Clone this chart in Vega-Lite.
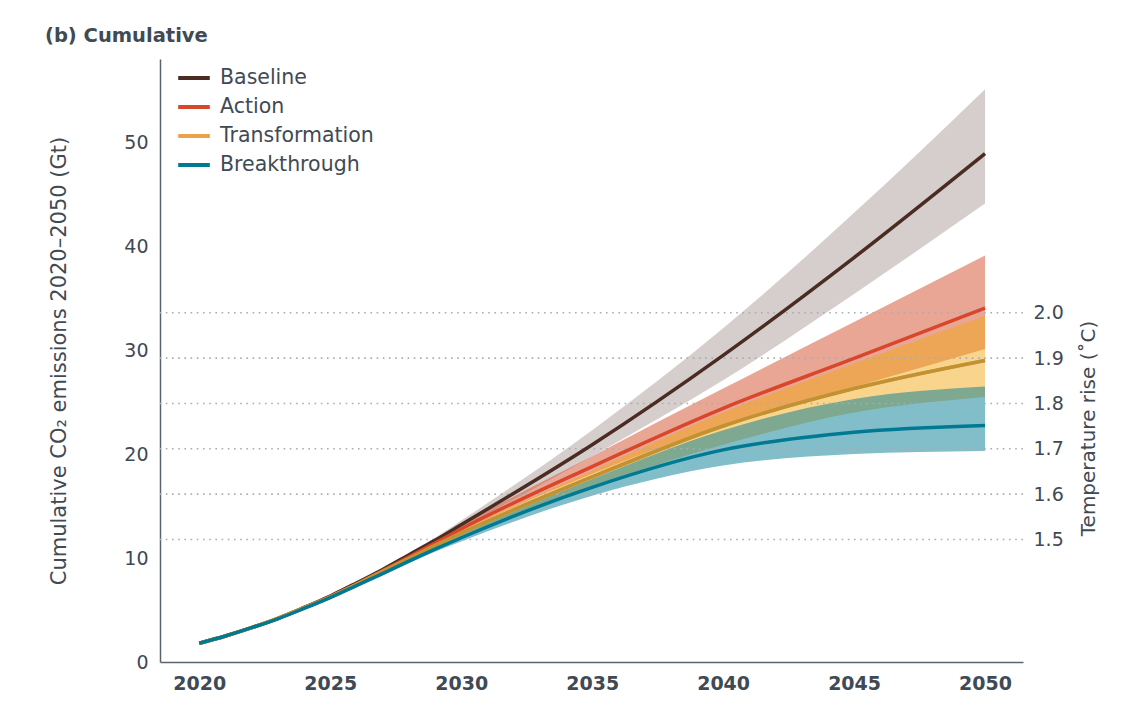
{
  "$schema": "https://vega.github.io/schema/vega-lite/v6.json",
  "width": 863,
  "height": 603,
  "autosize": {"type": "none"},
  "padding": {"left": 160, "top": 59, "right": 117, "bottom": 50},
  "background": "white",
  "title": {
    "text": "(b) Cumulative",
    "anchor": "start",
    "frame": "group",
    "dx": -115,
    "offset": -2,
    "baseline": "alphabetic",
    "fontSize": 19.5,
    "fontWeight": "bold",
    "color": "#3f4a54",
    "font": "DejaVu Sans"
  },
  "config": {
    "font": "DejaVu Sans",
    "view": {"stroke": null},
    "axis": {"labelColor": "#3f4a54", "titleColor": "#3f4a54", "labelFontSize": 19, "titleFontSize": 19, "titleFontWeight": "normal", "ticks": false, "grid": false}
  },
  "datasets": {
    "d": [
      {"scenario": "Baseline", "year": 2020, "mid": 1.8, "lo": 1.8, "hi": 1.8},
      {"scenario": "Baseline", "year": 2021, "mid": 2.5, "lo": 2.5, "hi": 2.5},
      {"scenario": "Baseline", "year": 2022, "mid": 3.3, "lo": 3.3, "hi": 3.3},
      {"scenario": "Baseline", "year": 2023, "mid": 4.2, "lo": 4.2, "hi": 4.2},
      {"scenario": "Baseline", "year": 2024, "mid": 5.25, "lo": 5.2, "hi": 5.3},
      {"scenario": "Baseline", "year": 2025, "mid": 6.35, "lo": 6.3, "hi": 6.4},
      {"scenario": "Baseline", "year": 2026, "mid": 7.6, "lo": 7.5, "hi": 7.7},
      {"scenario": "Baseline", "year": 2027, "mid": 8.9, "lo": 8.75, "hi": 9.05},
      {"scenario": "Baseline", "year": 2028, "mid": 10.3, "lo": 10.1, "hi": 10.5},
      {"scenario": "Baseline", "year": 2029, "mid": 11.7, "lo": 11.45, "hi": 11.95},
      {"scenario": "Baseline", "year": 2030, "mid": 13.2, "lo": 12.85, "hi": 13.6},
      {"scenario": "Baseline", "year": 2035, "mid": 20.9, "lo": 19.8, "hi": 22.3},
      {"scenario": "Baseline", "year": 2040, "mid": 29.5, "lo": 27.1, "hi": 32.1},
      {"scenario": "Baseline", "year": 2045, "mid": 38.9, "lo": 35.4, "hi": 43.2},
      {"scenario": "Baseline", "year": 2050, "mid": 48.9, "lo": 44.1, "hi": 55.1},
      {"scenario": "Action", "year": 2020, "mid": 1.8, "lo": 1.8, "hi": 1.8},
      {"scenario": "Action", "year": 2021, "mid": 2.5, "lo": 2.5, "hi": 2.5},
      {"scenario": "Action", "year": 2022, "mid": 3.3, "lo": 3.3, "hi": 3.3},
      {"scenario": "Action", "year": 2023, "mid": 4.2, "lo": 4.2, "hi": 4.2},
      {"scenario": "Action", "year": 2024, "mid": 5.2, "lo": 5.2, "hi": 5.25},
      {"scenario": "Action", "year": 2025, "mid": 6.3, "lo": 6.25, "hi": 6.35},
      {"scenario": "Action", "year": 2026, "mid": 7.5, "lo": 7.45, "hi": 7.6},
      {"scenario": "Action", "year": 2027, "mid": 8.8, "lo": 8.7, "hi": 8.9},
      {"scenario": "Action", "year": 2028, "mid": 10.1, "lo": 10.0, "hi": 10.25},
      {"scenario": "Action", "year": 2029, "mid": 11.45, "lo": 11.3, "hi": 11.65},
      {"scenario": "Action", "year": 2030, "mid": 12.8, "lo": 12.55, "hi": 13.15},
      {"scenario": "Action", "year": 2035, "mid": 18.8, "lo": 18.1, "hi": 19.8},
      {"scenario": "Action", "year": 2040, "mid": 24.4, "lo": 22.8, "hi": 26.3},
      {"scenario": "Action", "year": 2045, "mid": 29.2, "lo": 26.45, "hi": 32.7},
      {"scenario": "Action", "year": 2050, "mid": 34.05, "lo": 30.1, "hi": 39.1},
      {"scenario": "Transformation", "year": 2020, "mid": 1.8, "lo": 1.8, "hi": 1.8},
      {"scenario": "Transformation", "year": 2021, "mid": 2.5, "lo": 2.5, "hi": 2.5},
      {"scenario": "Transformation", "year": 2022, "mid": 3.3, "lo": 3.3, "hi": 3.3},
      {"scenario": "Transformation", "year": 2023, "mid": 4.2, "lo": 4.2, "hi": 4.2},
      {"scenario": "Transformation", "year": 2024, "mid": 5.2, "lo": 5.2, "hi": 5.2},
      {"scenario": "Transformation", "year": 2025, "mid": 6.25, "lo": 6.2, "hi": 6.3},
      {"scenario": "Transformation", "year": 2026, "mid": 7.45, "lo": 7.4, "hi": 7.5},
      {"scenario": "Transformation", "year": 2027, "mid": 8.7, "lo": 8.6, "hi": 8.75},
      {"scenario": "Transformation", "year": 2028, "mid": 9.95, "lo": 9.85, "hi": 10.05},
      {"scenario": "Transformation", "year": 2029, "mid": 11.2, "lo": 11.05, "hi": 11.3},
      {"scenario": "Transformation", "year": 2030, "mid": 12.4, "lo": 12.15, "hi": 12.6},
      {"scenario": "Transformation", "year": 2035, "mid": 17.8, "lo": 16.9, "hi": 18.4},
      {"scenario": "Transformation", "year": 2040, "mid": 22.7, "lo": 20.9, "hi": 24.0},
      {"scenario": "Transformation", "year": 2045, "mid": 26.3, "lo": 24.0, "hi": 28.7},
      {"scenario": "Transformation", "year": 2050, "mid": 29.0, "lo": 25.5, "hi": 33.3},
      {"scenario": "Breakthrough", "year": 2020, "mid": 1.8, "lo": 1.8, "hi": 1.8},
      {"scenario": "Breakthrough", "year": 2021, "mid": 2.5, "lo": 2.5, "hi": 2.5},
      {"scenario": "Breakthrough", "year": 2022, "mid": 3.3, "lo": 3.3, "hi": 3.3},
      {"scenario": "Breakthrough", "year": 2023, "mid": 4.15, "lo": 4.15, "hi": 4.15},
      {"scenario": "Breakthrough", "year": 2024, "mid": 5.15, "lo": 5.1, "hi": 5.2},
      {"scenario": "Breakthrough", "year": 2025, "mid": 6.2, "lo": 6.1, "hi": 6.25},
      {"scenario": "Breakthrough", "year": 2026, "mid": 7.35, "lo": 7.25, "hi": 7.45},
      {"scenario": "Breakthrough", "year": 2027, "mid": 8.5, "lo": 8.35, "hi": 8.6},
      {"scenario": "Breakthrough", "year": 2028, "mid": 9.7, "lo": 9.5, "hi": 9.85},
      {"scenario": "Breakthrough", "year": 2029, "mid": 10.85, "lo": 10.6, "hi": 11.05},
      {"scenario": "Breakthrough", "year": 2030, "mid": 11.95, "lo": 11.6, "hi": 12.25},
      {"scenario": "Breakthrough", "year": 2035, "mid": 16.8, "lo": 16.0, "hi": 17.6},
      {"scenario": "Breakthrough", "year": 2040, "mid": 20.4, "lo": 18.9, "hi": 22.3},
      {"scenario": "Breakthrough", "year": 2045, "mid": 22.1, "lo": 20.0, "hi": 25.3},
      {"scenario": "Breakthrough", "year": 2050, "mid": 22.75, "lo": 20.3, "hi": 26.5}
    ],
    "grid": [{"t": 1.5}, {"t": 1.6}, {"t": 1.7}, {"t": 1.8}, {"t": 1.9}, {"t": 2.0}]
  },
  "layer": [
    {
      "data": {"name": "d"},
      "encoding": {
        "x": {"field": "year", "type": "quantitative", "scale": {"domain": [2018.5, 2051.45], "nice": false, "zero": false},
              "axis": {"values": [2020, 2025, 2030, 2035, 2040, 2045, 2050], "format": "d", "title": null, "labelFontWeight": "bold", "labelPadding": 12, "domainColor": "#5b646c", "domainWidth": 1.5}},
        "y": {"field": "lo", "type": "quantitative", "scale": {"domain": [0, 58], "nice": false, "zero": false},
              "axis": {"orient": "left", "values": [0, 10, 20, 30, 40, 50], "labelPadding": 12, "domainColor": "#5b646c", "domainWidth": 1.5,
                       "title": "Cumulative CO₂ emissions 2020–2050 (Gt)", "titleFontSize": 21, "titleX": -101, "titleY": 301.5, "titleAngle": 270, "titleAlign": "center", "titleBaseline": "middle"}},
        "y2": {"field": "hi"}
      },
      "layer": [
        {"transform": [{"filter": "datum.scenario === 'Baseline'"}], "mark": {"type": "area", "interpolate": "monotone", "fill": "#4e2d24", "fillOpacity": 0.23, "stroke": null}},
        {"transform": [{"filter": "datum.scenario === 'Action'"}], "mark": {"type": "area", "interpolate": "monotone", "fill": "#d44d2b", "fillOpacity": 0.5, "stroke": null}},
        {"transform": [{"filter": "datum.scenario === 'Transformation'"}], "mark": {"type": "area", "interpolate": "monotone", "fill": "#f1a714", "fillOpacity": 0.49, "stroke": null}},
        {"transform": [{"filter": "datum.scenario === 'Breakthrough'"}], "mark": {"type": "area", "interpolate": "monotone", "fill": "#007a93", "fillOpacity": 0.49, "stroke": null}}
      ]
    },
    {
      "data": {"name": "grid"},
      "mark": {"type": "rule", "stroke": "#a7adb3", "strokeWidth": 1.6, "strokeDash": [1.6, 4.6]},
      "encoding": {
        "y": {"field": "t", "type": "quantitative", "scale": {"domain": [1.2296, 2.5599], "nice": false, "zero": false},
              "axis": {"orient": "right", "values": [1.5, 1.6, 1.7, 1.8, 1.9, 2.0], "format": ".1f", "domain": false, "labelPadding": 10,
                       "title": "Temperature rise (˚C)", "titleFontSize": 20, "titleX": 65, "titleY": 369, "titleAngle": 270, "titleAlign": "center", "titleBaseline": "middle"}}
      }
    },
    {
      "data": {"name": "d"},
      "encoding": {
        "x": {"field": "year", "type": "quantitative", "scale": {"domain": [2018.5, 2051.45], "nice": false, "zero": false},
              "axis": {"values": [2020, 2025, 2030, 2035, 2040, 2045, 2050], "format": "d", "title": null, "labelFontWeight": "bold", "labelPadding": 12, "domainColor": "#5b646c", "domainWidth": 1.5}},
        "y": {"field": "mid", "type": "quantitative", "scale": {"domain": [0, 58], "nice": false, "zero": false}, "axis": null}
      },
      "layer": [
        {
          "transform": [{"filter": "datum.scenario !== 'Breakthrough'"}],
          "mark": {"type": "line", "interpolate": "monotone", "strokeWidth": 3.5},
          "encoding": {
            "stroke": {"field": "scenario", "type": "nominal",
                       "scale": {"domain": ["Baseline", "Action", "Transformation", "Breakthrough"], "range": ["#4b2c22", "#d8472a", "#eca24b", "#007a92"]},
                       "legend": {"title": null, "orient": "none", "legendX": 16, "legendY": 1, "symbolType": "stroke", "symbolSize": 1000, "symbolStrokeWidth": 4, "labelFontSize": 20.5, "labelColor": "#3f4a54", "labelOffset": 8, "rowPadding": -4.5, "padding": 0}}
          }
        },
        {
          "transform": [{"filter": "datum.scenario === 'Transformation'"}],
          "mark": {"type": "line", "interpolate": "monotone", "strokeWidth": 3.5, "stroke": "#c09233"}
        },
        {
          "transform": [{"filter": "datum.scenario === 'Breakthrough'"}],
          "mark": {"type": "line", "interpolate": "monotone", "strokeWidth": 3.5},
          "encoding": {
            "stroke": {"field": "scenario", "type": "nominal",
                       "scale": {"domain": ["Baseline", "Action", "Transformation", "Breakthrough"], "range": ["#4b2c22", "#d8472a", "#eca24b", "#007a92"]}}
          }
        }
      ]
    }
  ],
  "resolve": {"scale": {"y": "independent"}}
}
